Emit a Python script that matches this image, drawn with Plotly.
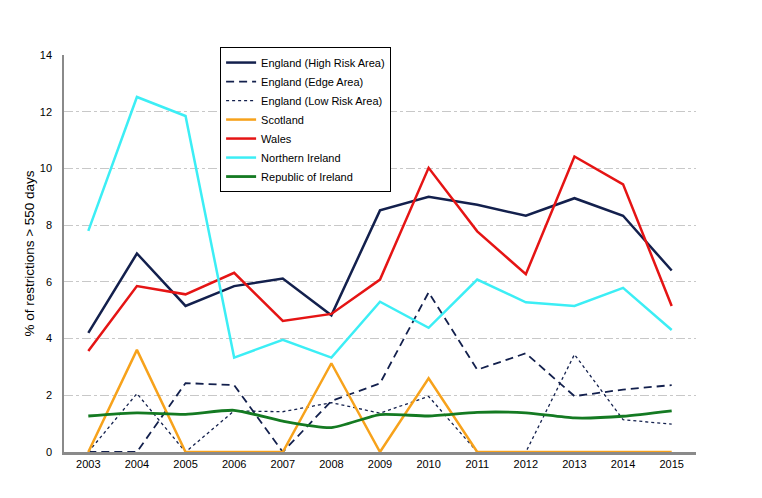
import plotly.graph_objects as go

years = list(range(2003, 2016))
england_high = [4.2, 7.0, 5.15, 5.85, 6.12, 4.82, 8.52, 9.0, 8.72, 8.33, 8.95, 8.33, 6.4]
england_edge = [0, 0, 2.43, 2.36, 0, 1.8, 2.42, 5.63, 2.9, 3.48, 1.97, 2.2, 2.36]
england_low = [0, 2.06, 0, 1.45, 1.42, 1.74, 1.37, 1.96, 0, 0, 3.44, 1.14, 0.98]
scotland = [0, 3.6, 0, 0, 0, 3.13, 0, 2.6, 0, 0, 0, 0, 0]
wales = [3.56, 5.85, 5.56, 6.32, 4.62, 4.87, 6.08, 10.02, 7.78, 6.27, 10.42, 9.44, 5.15]
n_ireland = [7.8, 12.52, 11.85, 3.33, 3.96, 3.33, 5.3, 4.38, 6.08, 5.28, 5.15, 5.79, 4.3]
r_ireland = [1.27, 1.38, 1.33, 1.47, 1.09, 0.86, 1.32, 1.27, 1.4, 1.38, 1.2, 1.26, 1.45]

navy = "#13204d"
fig = go.Figure()
series = [
    ("England (High Risk Area)", england_high, dict(color=navy, width=2.5, dash="solid"), "linear"),
    ("England (Edge Area)", england_edge, dict(color=navy, width=1.8, dash="8px,5px"), "linear"),
    ("England (Low Risk Area)", england_low, dict(color=navy, width=1.3, dash="dot"), "linear"),
    ("Scotland", scotland, dict(color="#f7a21b", width=2.5), "linear"),
    ("Wales", wales, dict(color="#e51414", width=2.5), "linear"),
    ("Northern Ireland", n_ireland, dict(color="#3ceef5", width=2.5), "linear"),
    ("Republic of Ireland", r_ireland, dict(color="#147a22", width=2.8), "spline"),
]
for name, ys, line, shape in series:
    line = dict(line)
    line["shape"] = shape
    if shape == "spline":
        line["smoothing"] = 0.6
    fig.add_trace(go.Scatter(x=years, y=ys, mode="lines", name=name, line=line))

fig.update_layout(
    width=754, height=490,
    margin=dict(l=56, r=66, t=47, b=46),
    paper_bgcolor="white", plot_bgcolor="white",
    font=dict(family="Liberation Sans, Arial, sans-serif", size=11, color="black"),
    legend=dict(
        x=0.247, y=1.02, xanchor="left", yanchor="top",
        bordercolor="black", borderwidth=1, bgcolor="white",
        font=dict(size=11), tracegroupgap=0,
    ),
    xaxis=dict(
        range=[2002.5, 2015.5], tickvals=years, ticktext=[str(y) for y in years],
        showgrid=False, showline=True, linecolor="#8a8a8a", linewidth=2.5,
        ticks="", zeroline=False, tickfont=dict(size=11),
    ),
    yaxis=dict(
        range=[0, 14], tickvals=list(range(0, 15, 2)), showgrid=True,
        gridcolor="#c8c8c8", griddash="dashdot", gridwidth=1,
        showline=True, linecolor="#8a8a8a", linewidth=1.5, zeroline=False,
        ticks="", ticklabelstandoff=8,
        title=dict(text="% of restrictions > 550 days", font=dict(size=13.5), standoff=2),
        tickfont=dict(size=11),
    ),
)
fig.write_html("out.html")
